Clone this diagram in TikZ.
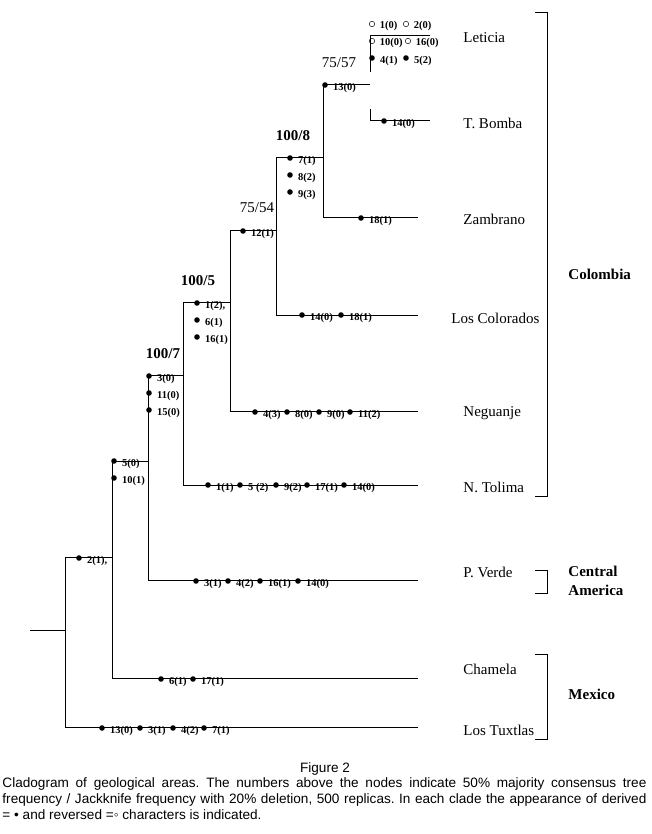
\documentclass[tikz,border=0pt]{standalone}
\usepackage{fontspec}
\setmainfont{Liberation Serif}
\newfontfamily\capfont{Liberation Sans}
\usetikzlibrary{positioning}
\frenchspacing
\tikzset{
  br/.style={line width=0.9pt},
  dot/.style={circle,fill=black,inner sep=0pt,minimum size=5.6pt},
  odot/.style={circle,draw=black,line width=0.45pt,inner sep=0pt,minimum size=5.5pt},
  chl/.style={font=\fontsize{10.5}{11}\selectfont\bfseries,inner sep=0pt},
  supp/.style={font=\fontsize{15}{16}\selectfont\bfseries,inner sep=0pt},
  supr/.style={font=\fontsize{15}{16}\selectfont,inner sep=0pt},
  taxon/.style={font=\fontsize{15}{16}\selectfont,anchor=west,inner sep=0pt},
  region/.style={font=\fontsize{15}{19}\selectfont\bfseries,anchor=west,inner sep=0pt,align=left},
  capt/.style={anchor=north west,inner sep=0pt,text width=644pt,align=justify,font=\capfont\fontsize{13.6}{16}\selectfont},
}
\newcommand\dchr[4]{\node[dot] (#1) at (#2,#3) {}; \node[chl,right=4.5pt of #1,yshift=-3pt] (#1l) {#4};}
\newcommand\rchr[4]{\node[odot] (#1) at (#2,#3) {}; \node[chl,right=4.5pt of #1,yshift=-2pt] (#1l) {#4};}

\begin{document}
\begin{tikzpicture}[x=1pt,y=-1pt,br]
\useasboundingbox (0,0) rectangle (651,834);
% nodes of the tree
\coordinate (root) at (30,630);
\coordinate (nA) at (65,630);
\coordinate (nB) at (112,557);
\coordinate (nC) at (148,461);
\coordinate (nD) at (183,375);
\coordinate (nE) at (230,302);
\coordinate (nF) at (276,230);
\coordinate (nG) at (323,157);
\coordinate (nH) at (370,84);
\coordinate (tLet) at (430,35);
\coordinate (tTBo) at (430,120);
\coordinate (tZam) at (418,217);
\coordinate (tLCo) at (418,315);
\coordinate (tNeg) at (418,411);
\coordinate (tNTo) at (418,485);
\coordinate (tPVe) at (418,580);
\coordinate (tCha) at (418,678);
\coordinate (tTux) at (418,727);

\draw (root) -- (nA);
\draw (nA) |- (nB); \draw (nA) |- (tTux);
\draw (nB) |- (nC); \draw (nB) |- (tCha);
\draw (nC) |- (nD); \draw (nC) |- (tPVe);
\draw (nD) |- (nE); \draw (nD) |- (tNTo);
\draw (nE) |- (nF); \draw (nE) |- (tNeg);
\draw (nF) |- (nG); \draw (nF) |- (tLCo);
\draw (nG) |- (nH); \draw (nG) |- (tZam);
\draw ([yshift=12pt]nH) |- (tLet); \draw ([yshift=-25pt]nH) |- (tTBo);

% support values
\node[supr] (s1) at (339,63) {75/57};
\node[supp] (s2) at (293,136) {100/8};
\node[supr] (s3) at (257,208) {75/54};
\node[supp] (s4) at (198,281) {100/5};
\node[supp] (s5) at (163,354) {100/7};

% characters
\rchr{l1}{372}{24}{1(0)} \rchr{l2}{406}{24}{2(0)}
\rchr{l3}{372}{41}{10(0)} \rchr{l4}{408}{41}{16(0)}
\dchr{l5}{372}{58}{4(1)} \dchr{l6}{406}{58}{5(2)}
\dchr{b1}{384}{121}{14(0)}
\dchr{h1}{325}{85}{13(0)}
\dchr{z1}{361}{218}{18(1)}
\dchr{g1}{290}{158}{7(1)} \dchr{g2}{290}{175}{8(2)} \dchr{g3}{290}{192}{9(3)}
\dchr{c1}{302}{315}{14(0)} \dchr{c2}{341}{315}{18(1)}
\dchr{f1}{243}{231}{12(1)}
\dchr{q1}{255}{412}{4(3)} \dchr{q2}{287}{412}{8(0)} \dchr{q3}{319}{412}{9(0)} \dchr{q4}{350}{412}{11(2)}
\dchr{e1}{197}{303}{1(2),} \dchr{e2}{197}{320}{6(1)} \dchr{e3}{197}{337}{16(1)}
\dchr{t1}{208}{485}{1(1)} \dchr{t2}{240}{485}{5 (2)} \dchr{t3}{276}{485}{9(2)} \dchr{t4}{307}{485}{17(1)} \dchr{t5}{344}{485}{14(0)}
\dchr{d1}{149}{376}{3(0)} \dchr{d2}{149}{393}{11(0)} \dchr{d3}{149}{410}{15(0)}
\dchr{p1}{196}{581}{3(1)} \dchr{p2}{228}{581}{4(2)} \dchr{p3}{260}{581}{16(1)} \dchr{p4}{298}{581}{14(0)}
\dchr{k1}{114}{461}{5(0)} \dchr{k2}{114}{478}{10(1)}
\dchr{m1}{161}{679}{6(1)} \dchr{m2}{193}{679}{17(1)}
\dchr{a1}{79}{558}{2(1),}
\dchr{x1}{102}{728}{13(0)} \dchr{x2}{140}{728}{3(1)} \dchr{x3}{173}{728}{4(2)} \dchr{x4}{204}{728}{7(1)}

% areas
\node[taxon] (Let) at (463,38) {Leticia};
\node[taxon] (TBo) at (463,123) {T. Bomba};
\node[taxon] (Zam) at (463,219) {Zambrano};
\node[taxon] (LCo) at (451,318) {Los Colorados};
\node[taxon] (Neg) at (463,413) {Neguanje};
\node[taxon] (NTo) at (463,487) {N. Tolima};
\node[taxon] (PVe) at (463,572) {P. Verde};
\node[taxon] (Cha) at (463,669) {Chamela};
\node[taxon] (Tux) at (463,730) {Los Tuxtlas};

% regions
\coordinate (colT) at (535,12); \coordinate (colB) at (535,496);
\coordinate (camT) at (535,570); \coordinate (camB) at (535,593);
\coordinate (mexT) at (535,654); \coordinate (mexB) at (535,739);
\draw (colT) -- ++(12,0) |- (colB);
\draw (camT) -- ++(12,0) |- (camB);
\draw (mexT) -- ++(12,0) |- (mexB);
\node[region] (Col) at (568,274) {Colombia};
\node[region] (CAm) at (568,581) {Central\\America};
\node[region] (Mex) at (568,694) {Mexico};

% caption
\node[font=\capfont\fontsize{13.6}{16}\selectfont,inner sep=0pt] (fig) at (325,769) {Figure 2};
\node[capt] (cap) at (2,777) {Cladogram of geological areas. The numbers above the nodes indicate 50\% majority consensus tree\linebreak frequency / Jackknife frequency with 20\% deletion, 500 replicas. In each clade the appearance of derived\linebreak = • and reversed =◦ characters is indicated.};
\end{tikzpicture}
\end{document}
